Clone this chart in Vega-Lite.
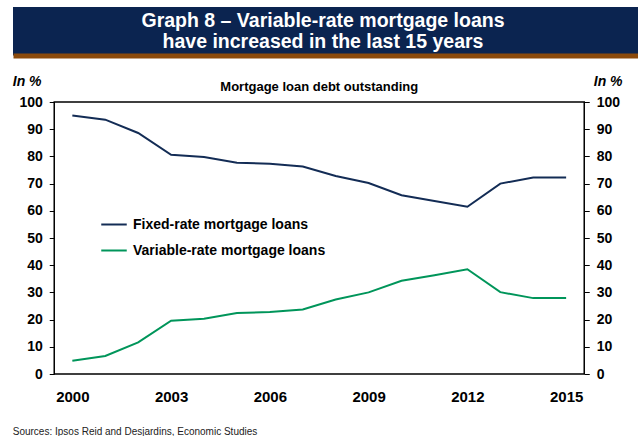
{
  "$schema": "https://vega.github.io/schema/vega-lite/v6.json",
  "autosize": {"type": "pad"},
  "padding": {"left": 11, "top": 7, "right": 0, "bottom": 0},
  "background": "white",
  "config": {"font": "Liberation Sans"},
  "spacing": 17,
  "center": true,
  "vconcat": [
    {
      "width": 651,
      "height": 48.5,
      "view": {"fill": "#0b2450", "stroke": null},
      "data": {"values": [
        {"line": 1, "c": "a", "t": "Graph 8 – Variable-rate mortgage loans"},
        {"line": 2, "c": "a", "t": "have increased in the last 15 years"}
      ]},
      "mark": {"type": "text", "color": "white", "fontWeight": "bold", "fontSize": 19.5, "align": "center", "baseline": "middle", "dx": -15.5},
      "encoding": {
        "x": {"field": "c", "type": "nominal", "scale": {"type": "point", "padding": 0.5},
          "axis": {"labels": false, "ticks": false, "title": null, "grid": false, "domain": true, "domainColor": "#8b4a0c", "domainWidth": 5, "domainCap": "butt"}},
        "y": {"field": "line", "type": "ordinal", "axis": null, "scale": {"type": "point", "padding": 0.667}},
        "text": {"field": "t"}
      }
    },
    {
      "width": 530,
      "height": 272,
      "title": {"text": "Mortgage loan debt outstanding", "fontSize": 13, "fontWeight": "bold", "anchor": "middle", "offset": -20, "color": "black"},
      "view": {"stroke": "black", "strokeWidth": 1.5},
      "data": {"values": [
        {"year": 2000, "series": "Fixed-rate mortgage loans", "value": 95.0},
        {"year": 2001, "series": "Fixed-rate mortgage loans", "value": 93.5},
        {"year": 2002, "series": "Fixed-rate mortgage loans", "value": 88.6},
        {"year": 2003, "series": "Fixed-rate mortgage loans", "value": 80.6},
        {"year": 2004, "series": "Fixed-rate mortgage loans", "value": 79.8},
        {"year": 2005, "series": "Fixed-rate mortgage loans", "value": 77.7},
        {"year": 2006, "series": "Fixed-rate mortgage loans", "value": 77.3},
        {"year": 2007, "series": "Fixed-rate mortgage loans", "value": 76.3},
        {"year": 2008, "series": "Fixed-rate mortgage loans", "value": 72.8},
        {"year": 2009, "series": "Fixed-rate mortgage loans", "value": 70.2},
        {"year": 2010, "series": "Fixed-rate mortgage loans", "value": 65.7},
        {"year": 2011, "series": "Fixed-rate mortgage loans", "value": 63.6},
        {"year": 2012, "series": "Fixed-rate mortgage loans", "value": 61.5},
        {"year": 2013, "series": "Fixed-rate mortgage loans", "value": 70.0},
        {"year": 2014, "series": "Fixed-rate mortgage loans", "value": 72.2},
        {"year": 2015, "series": "Fixed-rate mortgage loans", "value": 72.2},
        {"year": 2000, "series": "Variable-rate mortgage loans", "value": 4.9},
        {"year": 2001, "series": "Variable-rate mortgage loans", "value": 6.6},
        {"year": 2002, "series": "Variable-rate mortgage loans", "value": 11.6},
        {"year": 2003, "series": "Variable-rate mortgage loans", "value": 19.6},
        {"year": 2004, "series": "Variable-rate mortgage loans", "value": 20.3},
        {"year": 2005, "series": "Variable-rate mortgage loans", "value": 22.4},
        {"year": 2006, "series": "Variable-rate mortgage loans", "value": 22.8},
        {"year": 2007, "series": "Variable-rate mortgage loans", "value": 23.7},
        {"year": 2008, "series": "Variable-rate mortgage loans", "value": 27.4},
        {"year": 2009, "series": "Variable-rate mortgage loans", "value": 30.0},
        {"year": 2010, "series": "Variable-rate mortgage loans", "value": 34.3},
        {"year": 2011, "series": "Variable-rate mortgage loans", "value": 36.3},
        {"year": 2012, "series": "Variable-rate mortgage loans", "value": 38.5},
        {"year": 2013, "series": "Variable-rate mortgage loans", "value": 30.1},
        {"year": 2014, "series": "Variable-rate mortgage loans", "value": 27.9},
        {"year": 2015, "series": "Variable-rate mortgage loans", "value": 27.9}
      ]},
      "encoding": {
        "x": {
          "field": "year", "type": "quantitative",
          "scale": {"domain": [1999.45, 2015.55], "nice": false, "zero": false},
          "axis": {
            "values": [2000, 2003, 2006, 2009, 2012, 2015], "format": "d",
            "ticks": false, "domain": false, "grid": false,
            "labelFontSize": 15, "labelFontWeight": "bold", "labelColor": "black", "labelPadding": 15, "labelFlush": false,
            "title": "Sources: Ipsos Reid and Desjardins, Economic Studies",
            "titleFontSize": 10, "titleFontWeight": "normal", "titleAnchor": "start", "titleAlign": "left",
            "titleX": -42, "titleY": 52, "titleBaseline": "top", "titleColor": "#222"
          }
        },
        "color": {
          "field": "series", "type": "nominal",
          "scale": {"domain": ["Fixed-rate mortgage loans", "Variable-rate mortgage loans"], "range": ["#132c55", "#00955a"]},
          "legend": {
            "orient": "none", "legendX": 87, "legendY": 203.5, "title": null, "padding": 0,
            "symbolType": "stroke", "symbolSize": 650, "symbolStrokeWidth": 2,
            "labelFontSize": 14, "labelFontWeight": "bold", "labelColor": "black", "labelLimit": 0,
            "rowPadding": 5, "labelOffset": 5
          }
        }
      },
      "layer": [
        {
          "mark": {"type": "line", "strokeWidth": 2},
          "encoding": {
            "y": {
              "field": "value", "type": "quantitative",
              "scale": {"domain": [0, 100], "nice": false},
              "axis": {
                "orient": "left", "values": [0, 10, 20, 30, 40, 50, 60, 70, 80, 90, 100],
                "grid": false, "domain": false, "ticks": true, "tickSize": 5, "tickColor": "black",
                "labelFontSize": 14, "labelFontWeight": "bold", "labelColor": "black", "labelPadding": 7,
                "title": "In %", "titleAngle": 0, "titleFontStyle": "italic", "titleFontWeight": "bold", "titleFontSize": 14,
                "titleAlign": "left", "titleX": -42, "titleY": -21, "titleBaseline": "middle", "titleColor": "black"
              }
            }
          }
        },
        {
          "mark": {"type": "line", "strokeWidth": 2, "opacity": 0},
          "encoding": {
            "y": {
              "field": "value", "type": "quantitative",
              "scale": {"domain": [0, 100], "nice": false},
              "axis": {
                "orient": "right", "values": [0, 10, 20, 30, 40, 50, 60, 70, 80, 90, 100],
                "grid": false, "domain": false, "ticks": true, "tickSize": 5, "tickColor": "black",
                "labelFontSize": 14, "labelFontWeight": "bold", "labelColor": "black", "labelPadding": 7,
                "title": "In %", "titleAngle": 0, "titleFontStyle": "italic", "titleFontWeight": "bold", "titleFontSize": 14,
                "titleAlign": "left", "titleX": 9, "titleY": -21, "titleBaseline": "middle", "titleColor": "black"
              }
            }
          }
        }
      ],
      "resolve": {"axis": {"y": "independent"}}
    }
  ]
}
